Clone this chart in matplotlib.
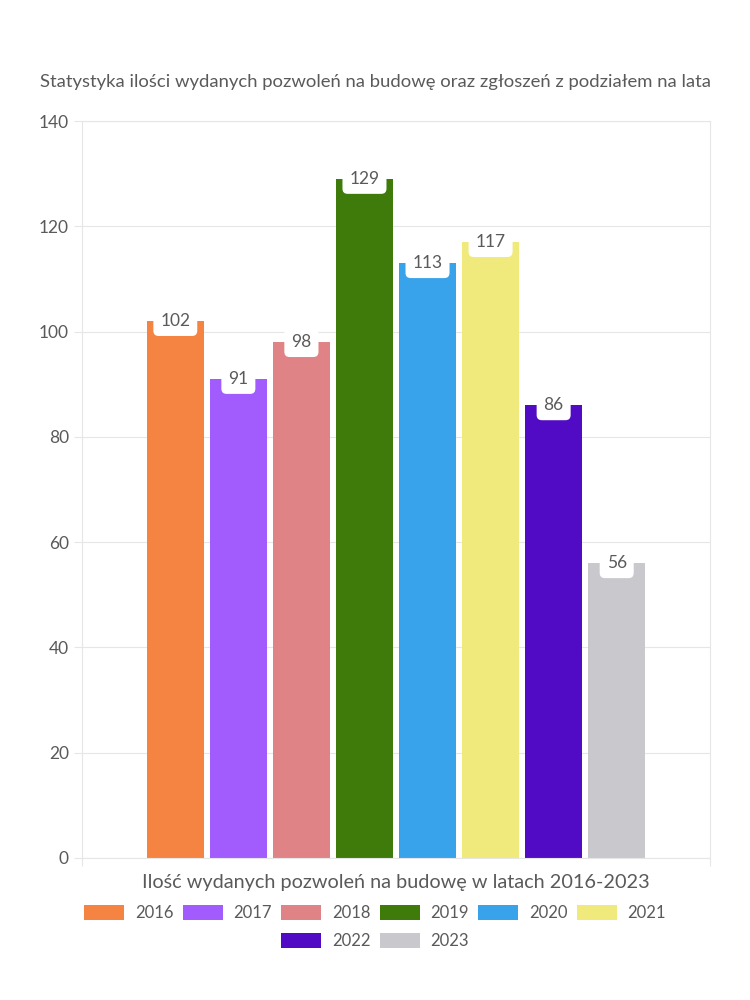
import matplotlib
matplotlib.use("Agg")
import matplotlib.pyplot as plt
from matplotlib.patches import Patch

years = ["2016", "2017", "2018", "2019", "2020", "2021", "2022", "2023"]
permits = [102, 91, 98, 129, 113, 117, 86, 56]
colors = ["#f58442", "#a25bfd", "#e08386", "#3e7b0b", "#38a3ea",
          "#f0ea7c", "#520bc5", "#c9c9cd"]
y_ticks = [0, 20, 40, 60, 80, 100, 120, 140]

TEXT = "#5a5a5a"
GRID = "#e6e6e6"
plt.rcParams["font.family"] = ["Lato", "DejaVu Sans"]

fig = plt.figure(figsize=(7.5, 10), dpi=100)
ax = fig.add_axes([0.1093, 0.142, 0.8374, 0.737])

xs = list(range(len(years)))
ax.bar(xs, permits, width=0.905, color=colors, zorder=2)

# value labels in white rounded boxes sitting on the bar tops
for x, v in zip(xs, permits):
    ax.text(x, v, str(v), ha="center", va="center", fontsize=12.5, color=TEXT, zorder=3,
            bbox=dict(boxstyle="round,pad=0.4,rounding_size=0.3", fc="white", ec="none"))

ax.set_xlim(-1.48, 8.48)
ax.set_ylim(0, 140)
ax.set_yticks(y_ticks)
ax.set_xticks([-1.48, 8.48])
ax.set_xticklabels([])
ax.tick_params(axis="y", labelsize=12.5, labelcolor=TEXT, color=GRID, length=6)
ax.tick_params(axis="x", color=GRID, length=6)
ax.grid(axis="y", color=GRID, lw=0.8, zorder=0)
for s in ax.spines.values():
    s.set_color(GRID)
    s.set_linewidth(0.8)

ax.set_xlabel("Ilość wydanych pozwoleń na budowę w latach 2016-2023",
              fontsize=14.3, color=TEXT, labelpad=2)
fig.text(0.5, 0.918, "Statystyka ilości wydanych pozwoleń na budowę oraz zgłoszeń z podziałem na lata",
         ha="center", va="center", fontsize=13.3, color=TEXT)

# legend in two centred rows: 6 + 2
handles = [Patch(facecolor=c, edgecolor="none") for c in colors]
leg_kw = dict(frameon=False, fontsize=12, labelcolor=TEXT, handlelength=2.4,
              handleheight=1.05, handletextpad=0.65, columnspacing=0.55,
              borderaxespad=0, loc="center")
fig.legend(handles[:6], years[:6], ncol=6, bbox_to_anchor=(0.5, 0.087), **leg_kw)
fig.legend(handles[6:], years[6:], ncol=2, bbox_to_anchor=(0.5, 0.059), **leg_kw)

fig.savefig("out.png", dpi=100)
